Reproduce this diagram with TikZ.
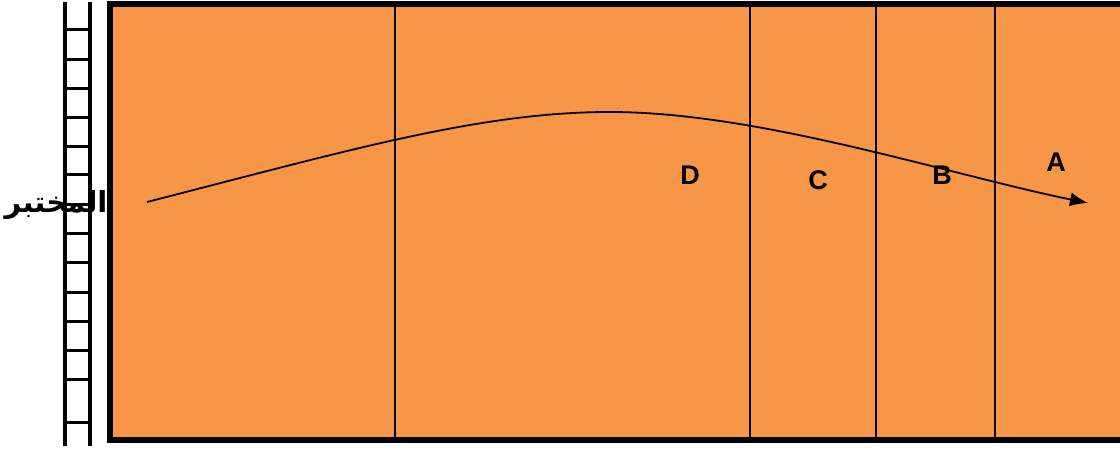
\documentclass[tikz,border=0pt]{standalone}
\usepackage{fontspec}
\setmainfont{Liberation Sans}
\newfontfamily\arabicfont[Script=Arabic]{DejaVu Sans}
\TeXXeTstate=1
\usetikzlibrary{arrows.meta}
\definecolor{zoneorange}{HTML}{F79646}
\begin{document}
\begin{tikzpicture}[x=1pt,y=1pt]
    \tikzset{zone/.style = {fill=zoneorange,draw=black,line width=6pt}, divider/.style = {line width=1.3pt}, rung/.style = {line width=3pt}, zonelabel/.style = {font=\bfseries\fontsize{27}{30}\selectfont,inner sep=0pt}}
    \clip (0,0) rectangle (1120,450);
    \def\bot{4}
    % ladder
    \draw[line width=3.5pt] (65,\bot) -- (65,448);
    \draw[line width=3.5pt] (90,\bot) -- (90,448);
    \foreach \y in {420,390,361,332,303,275,245,216,187,157,128,99,70,27}
        \draw[rung] (65,\y) -- (91,\y);
    % block
    \draw[zone] (110,10) rectangle (1130,446);
    \foreach \x in {395,750,876,995}
        \draw[divider] (\x,13) -- (\x,443);
    % path
    \coordinate (start) at (147,248);
    \coordinate (peak) at (610,338);
    \coordinate (finish) at (1088,247);
    \draw[line width=1.8pt,-{Latex[length=18pt,width=14pt]}] (start) .. controls (350,300) and (480,338) .. (peak) .. controls (760,338) and (950,275) .. (finish);
    \node[zonelabel] (labelD) at (690,275) {D};
    \node[zonelabel] (labelC) at (818,270) {C};
    \node[zonelabel] (labelB) at (942,275) {B};
    \node[zonelabel] (labelA) at (1056,288) {A};
    \node[inner sep=0pt] (lab) at (56,245) {\arabicfont\bfseries\fontsize{29}{32}\selectfont\beginR المختبر\endR};
\end{tikzpicture}
\end{document}
